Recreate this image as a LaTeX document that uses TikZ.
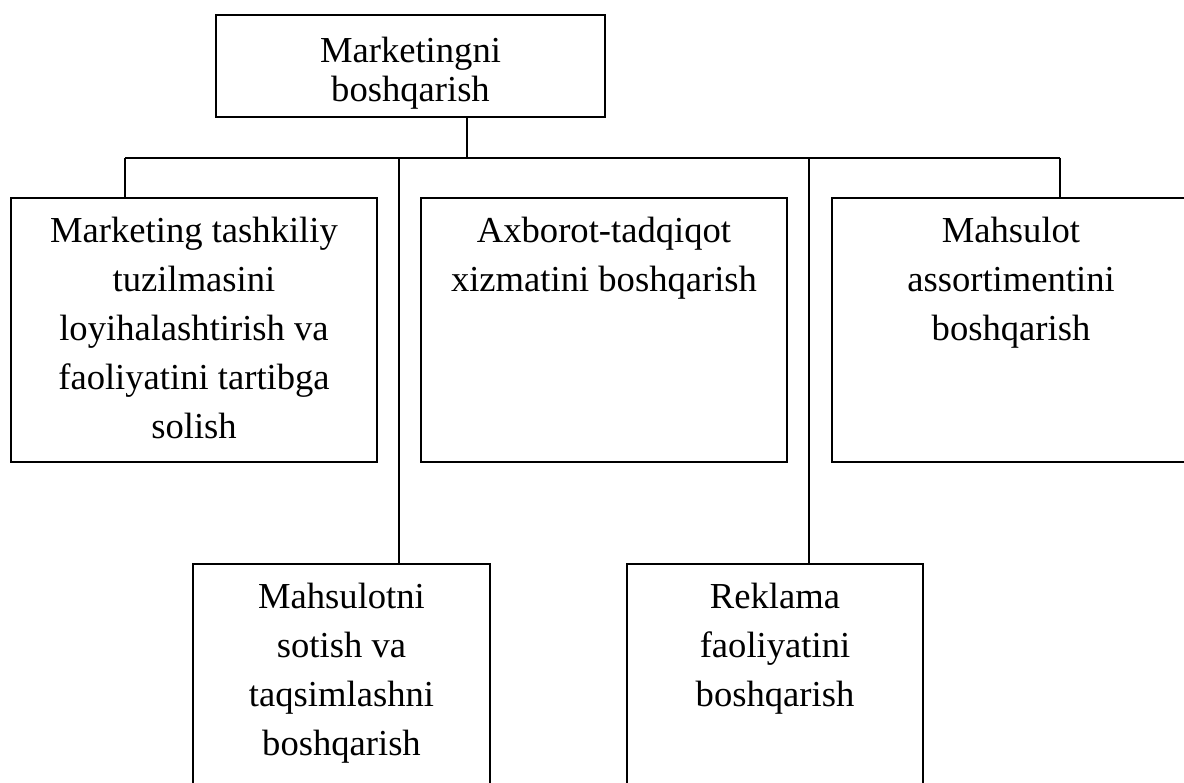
\documentclass[tikz,border=0pt]{standalone}
\usepackage{fontspec}
\setmainfont{Liberation Serif}
\usepackage{tikz}
\usetikzlibrary{positioning,calc}
\tikzset{
  box/.style={draw,line width=1.6pt,inner sep=0pt},
  txt/.style={align=center,inner sep=0pt,font=\fontsize{36.6}{49}\selectfont},
  toptxt/.style={txt,font=\fontsize{36.6}{39}\selectfont},
  ln/.style={line width=1.6pt}
}
\begin{document}
\begin{tikzpicture}[x=1pt,y=-1pt]
  \clip (0,0) rectangle (1184,783);
  % boxes
  \node[box,minimum width=389pt,minimum height=102pt] (top) at (410.5,66) {};
  \node[box,minimum width=366pt,minimum height=264pt] (org) at (194,330) {};
  \node[box,minimum width=366pt,minimum height=264pt] (info) at (604,330) {};
  \node[box,minimum width=358pt,minimum height=264pt] (assort) at (1011,330) {};
  \node[box,minimum width=297pt,minimum height=240pt] (sales) at (341.5,684) {};
  \node[box,minimum width=296pt,minimum height=240pt] (ads) at (775,684) {};
  % texts
  \node[toptxt,below=22.5pt of top.north] (ttop) {Marketingni\\boshqarish};
  \node[txt,below=20pt of org.north] (torg)
    {Marketing tashkiliy\\tuzilmasini\\loyihalashtirish va\\faoliyatini tartibga\\solish};
  \node[txt,below=20pt of info.north] (tinfo) {Axborot-tadqiqot\\xizmatini boshqarish};
  \node[txt,below=20pt of assort.north] (tassort) {Mahsulot\\assortimentini\\boshqarish};
  \node[txt,below=20pt of sales.north] (tsales) {Mahsulotni\\sotish va\\taqsimlashni\\boshqarish};
  \node[txt,below=20pt of ads.north] (tads) {Reklama\\faoliyatini\\boshqarish};
  % bus
  \coordinate (busL) at (125,158);
  \coordinate (busR) at (1060,158);
  \coordinate (jtop) at (467,158);
  \coordinate (jsales) at (399,158);
  \coordinate (jads) at (809,158);
  \draw[ln] (busL) -- (busR);
  \draw[ln] (top.south -| jtop) -- (jtop);
  \draw[ln] (busL) -- (org.north -| busL);
  \draw[ln] (busR) -- (assort.north -| busR);
  \draw[ln] (jsales) -- (sales.north -| jsales);
  \draw[ln] (jads) -- (ads.north -| jads);
\end{tikzpicture}
\end{document}
